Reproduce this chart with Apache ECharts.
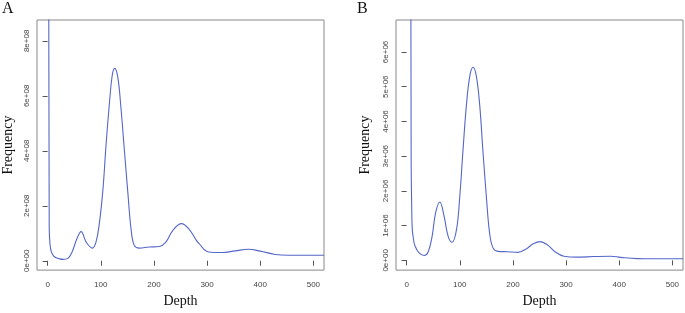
<!DOCTYPE html>
<html>
<head>
<meta charset="utf-8">
<script src="https://cdn.jsdelivr.net/npm/echarts@6/dist/echarts.min.js"></script>
<style>
  html, body { margin: 0; padding: 0; background: #fff; }
  #chart { width: 685px; height: 313px; }
</style>
</head>
<body>
<div id="chart"></div>
<script>
// depth vs frequency
// panel A frequency in units of 1e8, panel B in units of 1e6
var depthA = [1.5, 3, 4.5, 7, 11, 16, 22, 29, 38, 46, 55, 63, 72.5, 84, 91, 97.5, 104, 110, 116.5, 121.5, 126, 132, 138, 144.5, 151, 157, 163, 172.5, 191, 210, 222.5, 235, 252, 266, 279, 285, 303, 328, 353, 378, 400, 428, 453, 490, 520];
var freqA = [20, 1.2, 0.6, 0.32, 0.18, 0.11, 0.07, 0.05, 0.085, 0.32, 0.8, 1.06, 0.68, 0.46, 0.68, 1.39, 2.58, 4.24, 5.79, 6.74, 7.0, 6.68, 5.55, 4.0, 2.46, 1.15, 0.56, 0.46, 0.5, 0.52, 0.68, 1.09, 1.35, 1.15, 0.77, 0.62, 0.32, 0.3, 0.36, 0.42, 0.35, 0.23, 0.2, 0.2, 0.2];

var depthB = [7, 8.5, 9.5, 10.6, 13, 15.6, 23, 33, 40.5, 48, 54.5, 62.5, 70.5, 78, 85.5, 94, 100, 106, 112.5, 119, 125, 131, 137.5, 143.5, 150, 156, 162.5, 172, 190.5, 209, 225, 237.5, 251.5, 265.5, 280, 296, 321, 352, 384, 403, 434, 465, 520];
var freqB = [20, 3, 1.6, 0.9, 0.6, 0.42, 0.22, 0.14, 0.24, 0.7, 1.37, 1.68, 1.27, 0.7, 0.52, 0.9, 1.84, 3.16, 4.47, 5.32, 5.56, 5.32, 4.47, 3.16, 1.84, 0.8, 0.36, 0.26, 0.25, 0.23, 0.33, 0.47, 0.54, 0.44, 0.24, 0.12, 0.093, 0.11, 0.12, 0.085, 0.05, 0.045, 0.045];

var xTicks = [0, 100, 200, 300, 400, 500];
var yTicksA = [0, 2, 4, 6, 8];
var yTicksB = [0, 1, 2, 3, 4, 5, 6];

function pairs(xs, ys) {
  return xs.map(function (x, i) { return [x, ys[i]]; });
}

var lineColor = '#5467c9';
var tickColor = '#555';
var labelStyle = { fontFamily: 'Liberation Sans', fontSize: 8, color: '#444' };
var titleFont = 'Liberation Serif';

function xAxisFor(idx) {
  return {
    gridIndex: idx,
    type: 'value',
    min: -20,
    max: 520,
    axisLine: { show: false },
    splitLine: { show: false },
    axisTick: { length: 5, customValues: xTicks, lineStyle: { color: tickColor } },
    axisLabel: Object.assign({ margin: 11, customValues: xTicks }, labelStyle),
    name: 'Depth',
    nameLocation: 'middle',
    nameGap: 23,
    nameTextStyle: { fontFamily: titleFont, fontSize: 14, color: '#111' }
  };
}

function yAxisFor(idx, min, max, ticks, exp, gap) {
  return {
    gridIndex: idx,
    type: 'value',
    min: min,
    max: max,
    axisLine: { show: false },
    splitLine: { show: false },
    axisTick: { length: 5, customValues: ticks, lineStyle: { color: tickColor } },
    axisLabel: Object.assign({
      margin: 6,
      rotate: 90,
      customValues: ticks,
      formatter: function (v) { return v === 0 ? '0e+00' : v + exp; }
    }, labelStyle),
    name: 'Frequency',
    nameLocation: 'middle',
    nameGap: gap,
    nameTextStyle: { fontFamily: titleFont, fontSize: 14, color: '#111' }
  };
}

var chart = echarts.init(document.getElementById('chart'));
chart.setOption({
  animation: false,
  backgroundColor: '#fff',
  grid: [
    { left: 37, top: 20, width: 287, height: 255, show: true, borderColor: '#888', borderWidth: 1 },
    { left: 396, top: 20, width: 287, height: 255, show: true, borderColor: '#888', borderWidth: 1 }
  ],
  xAxis: [xAxisFor(0), xAxisFor(1)],
  yAxis: [
    yAxisFor(0, -0.34, 8.76, yTicksA, 'e+08', 22),
    yAxisFor(1, -0.28, 6.92, yTicksB, 'e+06', 24)
  ],
  graphic: [
    { type: 'text', left: 2, top: 1, style: { text: 'A', fontFamily: titleFont, fontSize: 16, fill: '#111' } },
    { type: 'text', left: 357, top: 1, style: { text: 'B', fontFamily: titleFont, fontSize: 16, fill: '#111' } }
  ],
  series: [
    {
      type: 'line', xAxisIndex: 0, yAxisIndex: 0,
      data: pairs(depthA, freqA),
      smooth: 0.4, showSymbol: false, clip: true,
      lineStyle: { color: lineColor, width: 1.1 }
    },
    {
      type: 'line', xAxisIndex: 1, yAxisIndex: 1,
      data: pairs(depthB, freqB),
      smooth: 0.4, showSymbol: false, clip: true,
      lineStyle: { color: lineColor, width: 1.1 }
    }
  ]
});
</script>
</body>
</html>
